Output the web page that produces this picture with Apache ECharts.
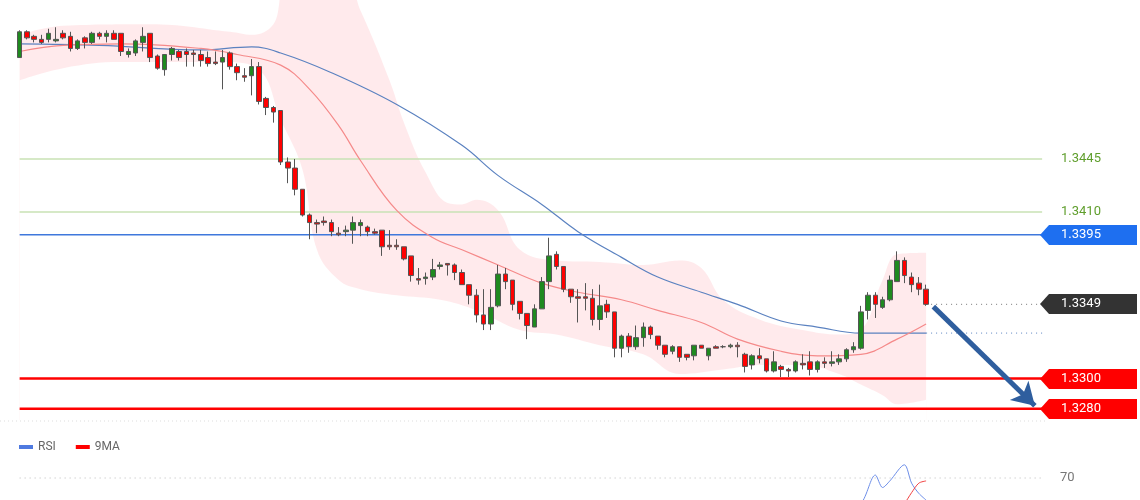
<!DOCTYPE html>
<html><head><meta charset="utf-8">
<script src="https://cdn.jsdelivr.net/npm/echarts@6/dist/echarts.min.js"></script>
<style>html,body{margin:0;padding:0;background:#fff}#c{width:1140px;height:500px}</style>
</head><body><div id="c"></div>
<script>
// OHLC candles: [open, close, low, high]
const candles = [
[1.3512,1.3529,1.3512,1.3530],[1.3529,1.3525,1.3524,1.3530],[1.3526,1.3524,1.3522,1.3527],[1.3524,1.3522,1.3521,1.3527],
[1.3524,1.3528,1.3522,1.3531],[1.3523,1.3524,1.3522,1.3532],[1.3528,1.3525,1.3524,1.3530],[1.3526,1.3518,1.3516,1.3529],
[1.3518,1.3523,1.3517,1.3524],[1.3525,1.3522,1.3518,1.3526],[1.3522,1.3528,1.3521,1.3529],[1.3528,1.3526,1.3524,1.3529],
[1.3526,1.3528,1.3522,1.3530],[1.3528,1.3524,1.3524,1.3530],[1.3528,1.3516,1.3513,1.3528],[1.3514,1.3516,1.3512,1.3518],
[1.3515,1.3523,1.3513,1.3524],[1.3522,1.3526,1.3516,1.3532],[1.3528,1.3512,1.3509,1.3528],[1.3513,1.3505,1.3504,1.3514],
[1.3504,1.3514,1.3500,1.3514],[1.3514,1.3518,1.3510,1.3519],[1.3516,1.3512,1.3510,1.3517],[1.3516,1.3514,1.3506,1.3518],
[1.3515,1.3514,1.3506,1.3517],[1.3514,1.3510,1.3506,1.3517],[1.3512,1.3508,1.3506,1.3516],[1.3509,1.3508,1.3507,1.3516],
[1.3509,1.3512,1.3491,1.3517],[1.3515,1.3506,1.3504,1.3516],[1.3506,1.3502,1.3497,1.3508],[1.3500,1.3499,1.3496,1.3505],
[1.3500,1.3506,1.3487,1.3511],[1.3506,1.3483,1.3481,1.3509],[1.3485,1.3479,1.3474,1.3486],[1.3479,1.3476,1.3469,1.3480],
[1.3477,1.3443,1.3441,1.3477],[1.3443,1.3439,1.3429,1.3446],[1.3439,1.3425,1.3421,1.3445],[1.3425,1.3408,1.3407,1.3425],
[1.3408,1.3403,1.3392,1.3409],[1.3403,1.3402,1.3396,1.3405],[1.3404,1.3403,1.3401,1.3407],[1.3403,1.3397,1.3394,1.3405],
[1.3396,1.3395,1.3394,1.3400],[1.3397,1.3398,1.3394,1.3401],[1.3398,1.3403,1.3389,1.3407],[1.3401,1.3403,1.3394,1.3405],
[1.3400,1.3397,1.3394,1.3401],[1.3397,1.3396,1.3395,1.3399],[1.3398,1.3387,1.3381,1.3398],[1.3388,1.3387,1.3385,1.3398],
[1.3388,1.3387,1.3385,1.3392],[1.3387,1.3379,1.3378,1.3387],[1.3381,1.3368,1.3364,1.3381],[1.3366,1.3365,1.3362,1.3373],
[1.3366,1.3367,1.3362,1.3370],[1.3367,1.3372,1.3365,1.3379],[1.3374,1.3375,1.3372,1.3377],[1.3376,1.3375,1.3368,1.3376],
[1.3375,1.3370,1.3365,1.3376],[1.3370,1.3362,1.3362,1.3372],[1.3362,1.3355,1.3349,1.3362],[1.3355,1.3342,1.3337,1.3359],
[1.3342,1.3336,1.3332,1.3359],[1.3336,1.3347,1.3332,1.3359],[1.3348,1.3369,1.3347,1.3375],[1.3369,1.3364,1.3359,1.3373],
[1.3365,1.3349,1.3345,1.3365],[1.3351,1.3343,1.3339,1.3351],[1.3343,1.3335,1.3326,1.3343],[1.3334,1.3346,1.3334,1.3349],
[1.3346,1.3364,1.3346,1.3367],[1.3364,1.3381,1.3359,1.3393],[1.3382,1.3374,1.3372,1.3384],[1.3374,1.3359,1.3357,1.3374],
[1.3359,1.3354,1.3350,1.3359],[1.3354,1.3353,1.3337,1.3359],[1.3354,1.3353,1.3345,1.3363],[1.3353,1.3339,1.3335,1.3359],
[1.3339,1.3348,1.3332,1.3362],[1.3349,1.3344,1.3340,1.3352],[1.3344,1.3320,1.3314,1.3344],[1.3320,1.3328,1.3314,1.3329],
[1.3328,1.3321,1.3317,1.3330],[1.3321,1.3327,1.3319,1.3335],[1.3327,1.3334,1.3321,1.3337],[1.3334,1.3329,1.3326,1.3335],
[1.3328,1.3322,1.3319,1.3328],[1.3322,1.3316,1.3314,1.3322],[1.3318,1.3321,1.3316,1.3322],[1.3321,1.3314,1.3311,1.3321],
[1.3316,1.3314,1.3312,1.3316],[1.3315,1.3322,1.3312,1.3322],[1.3322,1.3320,1.3320,1.3322],[1.3315,1.3320,1.3312,1.3320],
[1.3321,1.3320,1.3320,1.3322],[1.3321,1.3321,1.3320,1.3322],[1.3321,1.3322,1.3320,1.3323],[1.3322,1.3321,1.3314,1.3324],
[1.3316,1.3308,1.3304,1.3317],[1.3309,1.3315,1.3306,1.3316],[1.3315,1.3313,1.3310,1.3320],[1.3313,1.3305,1.3304,1.3313],
[1.3305,1.3311,1.3304,1.3318],[1.3308,1.3306,1.3301,1.3309],[1.3306,1.3305,1.3301,1.3307],[1.3305,1.3311,1.3304,1.3312],
[1.3310,1.3309,1.3306,1.3316],[1.3311,1.3306,1.3302,1.3318],[1.3306,1.3311,1.3304,1.3312],[1.3311,1.3310,1.3307,1.3314],
[1.3310,1.3311,1.3308,1.3318],[1.3311,1.3313,1.3309,1.3316],[1.3313,1.3319,1.3311,1.3320],[1.3319,1.3321,1.3317,1.3324],
[1.3320,1.3344,1.3319,1.3348],[1.3345,1.3355,1.3339,1.3357],[1.3355,1.3349,1.3340,1.3357],[1.3347,1.3352,1.3346,1.3354],
[1.3352,1.3365,1.3351,1.3368],[1.3364,1.3378,1.3364,1.3384],[1.3378,1.3368,1.3363,1.3380],[1.3367,1.3362,1.3357,1.3370],
[1.3363,1.3359,1.3355,1.3367],[1.3359,1.3349,1.3348,1.3362]
];
// Indicator lines: [candle index, price]
const maLong = [[0,1.3521],[11,1.3520],[25,1.3517],[32,1.3519],[36,1.3515],[43,1.3502],[52,1.3481],[61,1.3454],[66,1.3434],[72,1.3415],[77,1.3397],[83,1.3380],[88,1.3367],[94,1.3357],[99,1.3349],[105,1.3338],[110,1.3334],[116,1.3330],[121,1.3330],[125,1.3330]];
const maShort = [[0,1.3516],[6,1.3520],[14,1.3521],[25,1.3518],[30,1.3514],[36,1.3507],[40,1.3491],[44,1.3467],[47,1.3444],[52,1.3411],[57,1.3393],[61,1.3385],[66,1.3375],[72,1.3363],[77,1.3357],[83,1.3352],[88,1.3345],[94,1.3337],[99,1.3326],[105,1.3318],[110,1.3315],[116,1.3316],[121,1.3326],[125,1.3336]];
const bandUpper = [[0,1.3527],[6,1.3533],[18,1.3534],[29,1.3529],[32,1.3527],[35,1.3534],[37,1.3560],[45,1.3560],[47,1.3543],[51,1.3497],[53,1.3469],[56,1.3436],[59,1.3416],[61,1.3415],[63,1.3418],[66,1.3411],[69,1.3385],[74,1.3378],[80,1.3377],[86,1.3375],[91,1.3378],[94,1.3373],[97,1.3352],[102,1.3339],[108,1.3332],[113,1.3329],[116,1.3332],[119,1.3365],[121,1.3382],[125,1.3383]];
const bandLower = [[0,1.3497],[6,1.3505],[14,1.3509],[28,1.3509],[33,1.3504],[36,1.3471],[39,1.3438],[41,1.3385],[44,1.3365],[47,1.3359],[52,1.3355],[58,1.3352],[63,1.3345],[69,1.3332],[74,1.3329],[80,1.3322],[86,1.3316],[91,1.3303],[97,1.3306],[102,1.3309],[108,1.3309],[113,1.3303],[116,1.3296],[119,1.3289],[121,1.3283],[125,1.3286]];
const rsi = [[112,10],[116,35],[118,74],[119,57],[120,66],[122,88],[123,63],[124,49],[125,40]];
const rsiMa = [[119,0],[122,35],[123,50],[124,63],[125,66]];
const levelsGreen = [1.3445, 1.3410];
const levelBlue = 1.3395;
const levelsRed = [1.3300, 1.3280];
const lastPrice = 1.3349;
const maLongEnd = 1.3330;
const rsiLevel = 70;
const nCats = 143;
const cats = Array.from({length:nCats},(_,i)=>String(i));

const chart = echarts.init(document.getElementById('c'));
const hline = (v,color,w,z)=>({type:'line',data:[[0,v],[141,v]],symbol:'none',silent:true,
  lineStyle:{color:color,width:w},z:z});
chart.setOption({
  animation:false,
  legend:{left:14,top:436,itemWidth:14,itemHeight:4,icon:'rect',itemGap:20,
    textStyle:{color:'#666',fontSize:12,fontFamily:'Roboto'},data:['RSI','9MA']},
  grid:[{left:16,right:87,top:0,height:420},{left:16,right:87,top:456,bottom:0}],
  xAxis:[{type:'category',data:cats,gridIndex:0,show:false,boundaryGap:true},
         {type:'category',data:cats,gridIndex:1,show:false,boundaryGap:true}],
  yAxis:[{type:'value',gridIndex:0,min:1.32726,max:1.3550,show:false,scale:true},
         {type:'value',gridIndex:1,min:40,max:100,show:false}],
  series:[
    {type:'line',data:bandUpper,smooth:0.4,symbol:'none',lineStyle:{width:0},
     areaStyle:{color:'rgba(255,200,205,0.55)',origin:'start'},z:1,silent:true},
    {type:'line',data:bandLower,smooth:0.4,symbol:'none',lineStyle:{width:0},
     areaStyle:{color:'#fff',opacity:1,origin:'start'},z:1,silent:true},
    hline(levelsGreen[0],'#c8e2b4',1.5,2),
    hline(levelsGreen[1],'#c8e2b4',1.5,2),
    hline(levelBlue,'#3f78dc',1.5,2),
    hline(levelsRed[0],'#f00',2.5,4),
    hline(levelsRed[1],'#f00',2.5,4),
    {type:'line',data:maLong,smooth:0.4,symbol:'none',lineStyle:{color:'#5b82c0',width:1.2},z:3},
    {type:'line',data:maShort,smooth:0.4,symbol:'none',lineStyle:{color:'#f58a8a',width:1.2},z:3},
    {type:'candlestick',data:candles,barWidth:5,z:5,
     itemStyle:{color:'#1f8a1f',color0:'#f00',borderColor:'#555',borderColor0:'#555',borderWidth:1}},
    {type:'line',data:[[125,lastPrice],[141,lastPrice]],symbol:'none',lineStyle:{color:'#777',width:1,type:[1,4]},z:4},
    {type:'line',data:[[125,maLongEnd],[141,maLongEnd]],symbol:'none',lineStyle:{color:'#5b82c0',width:1,type:[1,4]},z:4},
    {type:'line',data:[],z:6,
     markLine:{silent:true,symbol:['none','arrow'],symbolSize:[20,22],label:{show:false},
       lineStyle:{color:'#2f5e9e',width:5,type:'solid'},itemStyle:{color:'#2f5e9e'},
       data:[[{coord:[126,1.33475]},{coord:[140,1.3282]}]]}},
    {name:'RSI',type:'line',xAxisIndex:1,yAxisIndex:1,data:rsi,smooth:0.3,symbol:'none',
     lineStyle:{color:'#6d8ee8',width:1},itemStyle:{color:'#4f7ae0'}},
    {type:'line',xAxisIndex:1,yAxisIndex:1,data:[[0,rsiLevel],[141,rsiLevel]],symbol:'none',silent:true,
     lineStyle:{color:'#bbb',type:[1,4],width:1}},
    {name:'9MA',type:'line',xAxisIndex:1,yAxisIndex:1,data:rsiMa,smooth:0.3,symbol:'none',
     lineStyle:{color:'#f04040',width:1},itemStyle:{color:'#f00'}}
  ]
});
function py(v){return chart.convertToPixel({gridIndex:0},[0,v])[1];}
const g=[];
function box(v,bg,txt){
  const y=Math.round(py(v));
  g.push({type:'polygon',shape:{points:[[1040,y],[1049,y-10],[1137,y-10],[1137,y+10],[1049,y+10]]},style:{fill:bg},z:10});
  g.push({type:'text',x:1061,y:y,style:{text:txt,fill:'#fff',font:'13px Roboto',verticalAlign:'middle'},z:11});
}
levelsGreen.forEach(v=>g.push({type:'text',x:1061,y:Math.round(py(v)),style:{text:v.toFixed(4),fill:'#5f9e2c',font:'13px Roboto',verticalAlign:'middle'},z:11}));
box(levelBlue,'#1e6ff0',levelBlue.toFixed(4));
box(lastPrice,'#333',lastPrice.toFixed(4));
levelsRed.forEach(v=>box(v,'#f00',v.toFixed(4)));
const ry=chart.convertToPixel({gridIndex:1},[0,rsiLevel])[1];
g.push({type:'text',x:1060,y:ry,style:{text:String(rsiLevel),fill:'#777',font:'13px Roboto',verticalAlign:'middle'}});
g.push({type:'line',shape:{x1:0,y1:421,x2:1045,y2:421},style:{stroke:'#ddd',lineWidth:1,lineDash:[1,3]}});
chart.setOption({graphic:g});
</script></body></html>
